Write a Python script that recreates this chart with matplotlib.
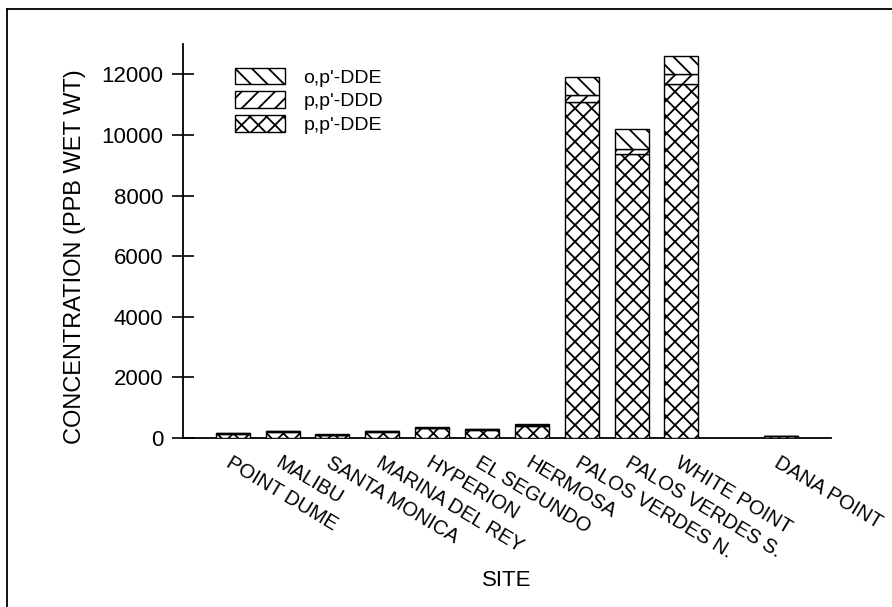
import matplotlib
matplotlib.use("Agg")
import matplotlib.pyplot as plt
import numpy as np
from matplotlib.lines import Line2D

plt.rcParams["font.family"] = ["Liberation Sans", "DejaVu Sans"]
plt.rcParams["hatch.linewidth"] = 1.3

sites = ["POINT DUME", "MALIBU", "SANTA MONICA", "MARINA DEL REY", "HYPERION",
         "EL SEGUNDO", "HERMOSA", "PALOS VERDES N.", "PALOS VERDES S.",
         "WHITE POINT", "DANA POINT"]
pp_dde = [140, 210, 105, 210, 320, 280, 410, 11090, 9365, 11695, 68]
pp_ddd = [10, 12, 8, 12, 20, 15, 25, 220, 185, 330, 5]
op_dde = [5, 8, 7, 8, 10, 10, 15, 600, 660, 570, 5]
yticks = [0, 2000, 4000, 6000, 8000, 10000, 12000]

# one empty slot before Dana Point
x = np.r_[np.arange(10), 11]
w = 0.68

fig = plt.figure(figsize=(8.92, 6.07), dpi=100)
ax = fig.add_axes([0.205, 0.2784, 0.7266, 0.6491])

base = np.zeros(len(sites))
series = [(pp_dde, "xx", "p,p'-DDE"), (pp_ddd, "//", "p,p'-DDD"), (op_dde, "\\\\", "o,p'-DDE")]
handles = []
for vals, hatch, lab in series:
    b = ax.bar(x, vals, w, bottom=base, color="white", edgecolor="black",
               hatch=hatch, linewidth=1.0, label=lab, zorder=3)
    handles.append(b)
    base = base + np.array(vals)

ax.set_xlim(-1, 12)
ax.set_ylim(0, 13000)
ax.set_yticks(yticks)
ax.set_xticks(x)
ax.set_xticklabels(sites, rotation=-31, ha="left", va="top",
                   rotation_mode="anchor", fontsize=14.5)
ax.tick_params(axis="x", length=0, pad=11)
ax.tick_params(axis="y", direction="inout", length=16, width=1.2, labelsize=16, pad=6)

for s in ["top", "right"]:
    ax.spines[s].set_visible(False)
for s in ["left", "bottom"]:
    ax.spines[s].set_linewidth(1.3)

ax.set_ylabel("CONCENTRATION (PPB WET WT)", fontsize=17)
ax.yaxis.set_label_coords(-0.15, 0.46)
ax.set_xlabel("SITE", fontsize=16)
ax.xaxis.set_label_coords(0.5, -0.335)

ax.legend(handles[::-1], [h.get_label() for h in handles[::-1]],
          loc="upper left", bbox_to_anchor=(0.080, 0.94), frameon=False,
          fontsize=14, handlelength=2.6, handleheight=0.93,
          handletextpad=0.93, labelspacing=0.25, borderpad=0, borderaxespad=0)

# page frame, only left and top edges fall inside the picture
fx, fy = 7 / 892, 1 - 9 / 607
fig.add_artist(Line2D([fx, fx], [0, fy], transform=fig.transFigure, color="black", lw=1.3))
fig.add_artist(Line2D([fx, 1], [fy, fy], transform=fig.transFigure, color="black", lw=1.3))

fig.savefig("out.png", dpi=100)
